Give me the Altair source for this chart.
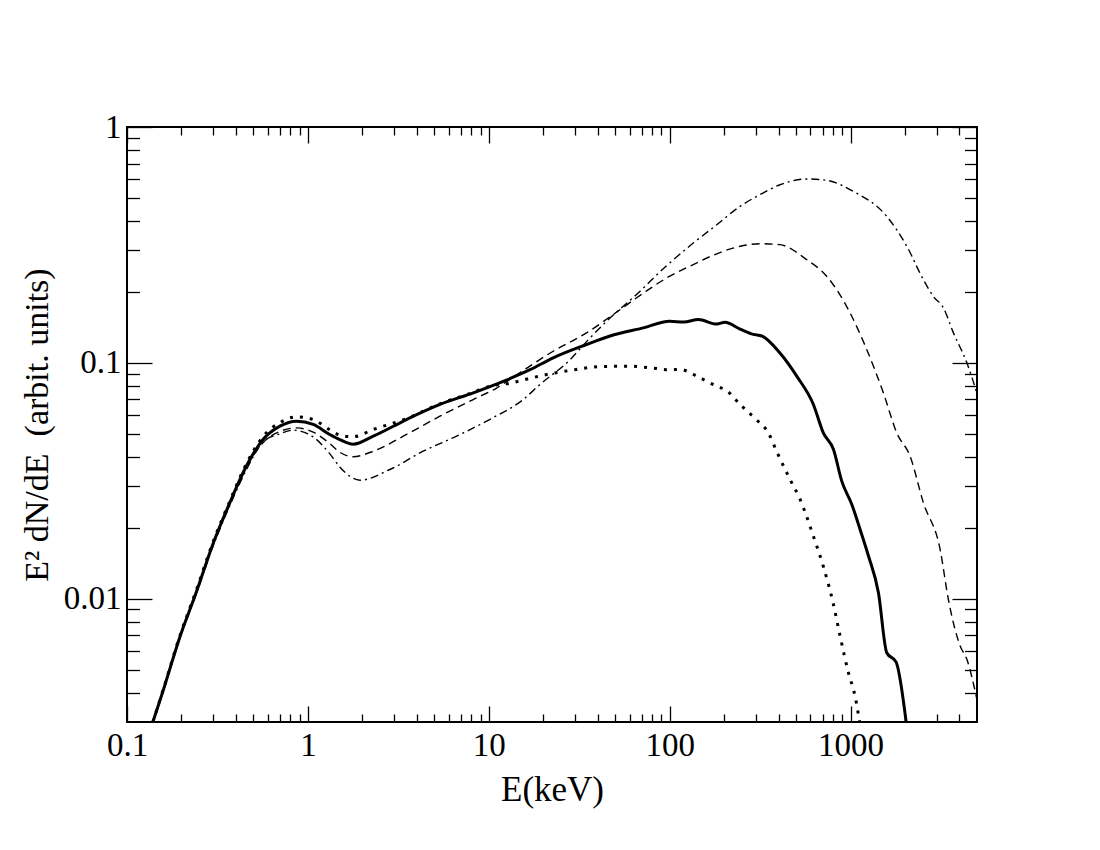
import altair as alt
import pandas as pd

# ---------------- data ----------------
solid_E = [0.139, 0.158, 0.195, 0.242, 0.299, 0.370, 0.457, 0.565, 0.700, 0.865,
           1.07, 1.32, 1.50, 1.78, 2.30, 3.51, 5.37, 8.21, 12.5, 16.9, 22.7, 34.7,
           46.8, 71.5, 100, 120, 144, 182, 202, 245, 290, 323, 407, 504, 623, 707,
           804, 894, 1016, 1128, 1255, 1426, 1585, 1786, 2040]
solid_V = [0.0030, 0.00405, 0.0068, 0.0107, 0.0171, 0.0255, 0.0365, 0.0473, 0.0539, 0.0566,
           0.0548, 0.0497, 0.0473, 0.0452, 0.0489, 0.0575, 0.0666, 0.0746, 0.0845, 0.0935, 0.1050, 0.1196,
           0.130, 0.1407, 0.150, 0.149, 0.1526, 0.146, 0.1486, 0.139, 0.132, 0.130, 0.110, 0.0878, 0.0666, 0.0505,
           0.043, 0.0315, 0.0251, 0.0197, 0.0152, 0.0106, 0.0059, 0.00538, 0.0029]

dotted_E = [0.139, 0.158, 0.195, 0.242, 0.299, 0.370, 0.457, 0.565, 0.700, 0.865,
            1.07, 1.32, 1.50, 1.78, 2.30, 3.51, 5.37, 8.21, 10.1, 13.1, 16.9, 21.8, 28.1,
            41.1, 60.3, 77.8, 100, 114, 147, 182, 206, 245, 297, 351, 391, 463, 526,
            623, 707, 804, 875, 973, 1059, 1105, 1130]
dotted_V = [0.0030, 0.00408, 0.00688, 0.0109, 0.0174, 0.0259, 0.0373, 0.0487, 0.0558, 0.0590,
            0.0575, 0.0520, 0.0494, 0.0486, 0.0522, 0.0580, 0.0670, 0.0750, 0.0796, 0.0820, 0.0860, 0.0898, 0.0928,
            0.0963, 0.0968, 0.0953, 0.0935, 0.0937, 0.0864, 0.0796, 0.0764, 0.0666, 0.0580, 0.0505, 0.0420,
            0.0320, 0.0264, 0.0184, 0.0137, 0.00946, 0.00695, 0.00486, 0.00386, 0.00323, 0.0029]

dashed_E = [0.139, 0.158, 0.195, 0.242, 0.299, 0.370, 0.457, 0.565, 0.700, 0.870,
            1.07, 1.32, 1.50, 1.78, 2.30, 3.51, 5.37, 8.21, 11.0, 14.9, 22.7, 34.7,
            53.1, 74.6, 96.1, 135, 182, 245, 316, 407, 572, 738, 993, 1228, 1518,
            1800, 2133, 2528, 3125, 3475, 4035, 4395, 4990]
dashed_V = [0.0030, 0.00403, 0.00677, 0.0106, 0.0169, 0.0251, 0.0360, 0.0458, 0.0512, 0.0530,
            0.0508, 0.0455, 0.0418, 0.0400, 0.0422, 0.0497, 0.0594, 0.0699, 0.0780, 0.0910, 0.112, 0.134,
            0.168, 0.202, 0.229, 0.261, 0.290, 0.312, 0.320, 0.317, 0.274, 0.233, 0.163, 0.114, 0.0746,
            0.0505, 0.0402, 0.0255, 0.0162, 0.0099, 0.0063, 0.00553, 0.00375]

dashdot_E = [0.139, 0.158, 0.195, 0.242, 0.299, 0.370, 0.457, 0.565, 0.700, 0.830,
             1.07, 1.32, 1.50, 1.94, 2.84, 4.34, 6.64, 10.1, 15.5, 19.2, 28.1, 34.7,
             44.8, 65.6, 96.1, 135, 182, 245, 316, 407, 572, 738, 1038, 1585, 2046,
             2528, 2872, 3260, 3705, 4395, 4990]
dashdot_V = [0.0030, 0.00402, 0.00672, 0.0105, 0.0167, 0.0248, 0.0352, 0.0462, 0.0500, 0.0518,
             0.0485, 0.0412, 0.0362, 0.0318, 0.0353, 0.0422, 0.0489, 0.0575, 0.0699, 0.0810, 0.103, 0.123,
             0.150, 0.195, 0.258, 0.322, 0.385, 0.461, 0.517, 0.569, 0.602, 0.594, 0.533, 0.418, 0.312,
             0.225, 0.191, 0.171, 0.134, 0.100, 0.0746]

x_major = [0.1, 1, 10, 100, 1000]
x_minor = [0.2, 0.3, 0.4, 0.5, 0.6, 0.7, 0.8, 0.9,
           2, 3, 4, 5, 6, 7, 8, 9,
           20, 30, 40, 50, 60, 70, 80, 90,
           200, 300, 400, 500, 600, 700, 800, 900,
           2000, 3000, 4000]
y_major = [0.01, 0.1, 1]
y_minor = [0.004, 0.005, 0.006, 0.007, 0.008, 0.009,
           0.02, 0.03, 0.04, 0.05, 0.06, 0.07, 0.08, 0.09,
           0.2, 0.3, 0.4, 0.5, 0.6, 0.7, 0.8, 0.9]

x_title = "E(keV)"
y_title = "E\u00b2 dN/dE\u00a0\u00a0(arbit. units)"

# ---------------- chart ----------------
FONT = "Liberation Serif"
xs = alt.Scale(type="log", domain=[0.1, 5000], nice=False)
ys = alt.Scale(type="log", domain=[0.003, 1], nice=False)

x_label_axis = alt.Axis(orient="bottom", values=x_major, format="~g",
                        labelFont=FONT, labelFontSize=33, labelColor="black",
                        labelPadding=7, labelFlush=False, labelOverlap=False,
                        ticks=False, tickSize=0, domain=False, grid=False,
                        title=x_title, titleFont=FONT, titleFontSize=35,
                        titleFontWeight="normal", titleColor="black",
                        titleY=78, titleBaseline="alphabetic")
y_label_axis = alt.Axis(orient="left", values=y_major, format="~g",
                        labelFont=FONT, labelFontSize=33, labelColor="black",
                        labelPadding=6, labelFlush=False, labelOverlap=False,
                        ticks=False, tickSize=0, domain=False, grid=False,
                        title=y_title, titleFont=FONT, titleFontSize=34,
                        titleFontWeight="normal", titleColor="black",
                        titleX=-80, titleAngle=270, titleBaseline="alphabetic")


def line_layer(E, V, xaxis=None, yaxis=None, **style):
    df = pd.DataFrame({"E": E, "V": V})
    return alt.Chart(df).mark_line(clip=True, color="black",
                                   interpolate="monotone", **style).encode(
        x=alt.X("E:Q", scale=xs, axis=xaxis),
        y=alt.Y("V:Q", scale=ys, axis=yaxis),
    )


def xtick_layer(vals, orient, size):
    df = pd.DataFrame({"E": vals})
    ax = alt.Axis(orient=orient, values=vals, offset=-size, tickSize=size,
                  tickWidth=1.3, tickColor="black", labels=False,
                  domain=False, grid=False, title=None)
    return alt.Chart(df).mark_point(opacity=0).encode(
        x=alt.X("E:Q", scale=xs, axis=ax))


def ytick_layer(vals, orient, size):
    df = pd.DataFrame({"V": vals})
    ax = alt.Axis(orient=orient, values=vals, offset=-size, tickSize=size,
                  tickWidth=1.3, tickColor="black", labels=False,
                  domain=False, grid=False, title=None)
    return alt.Chart(df).mark_point(opacity=0).encode(
        y=alt.Y("V:Q", scale=ys, axis=ax))


solid = line_layer(solid_E, solid_V, xaxis=x_label_axis, yaxis=y_label_axis,
                   strokeWidth=3)
dotted = line_layer(dotted_E, dotted_V, strokeWidth=3, strokeDash=[3, 7],
                    strokeCap="butt")
dashed = line_layer(dashed_E, dashed_V, strokeWidth=1.4, strokeDash=[8, 5])
dashdot = line_layer(dashdot_E, dashdot_V, strokeWidth=1.4,
                     strokeDash=[8, 4, 2, 4])

layers = [
    solid, dotted, dashed, dashdot,
    xtick_layer(x_major, "bottom", 16), xtick_layer(x_minor, "bottom", 8),
    xtick_layer(x_major, "top", 16), xtick_layer(x_minor, "top", 8),
    ytick_layer(y_major, "left", 25), ytick_layer(y_minor, "left", 12.5),
    ytick_layer(y_major, "right", 25), ytick_layer(y_minor, "right", 12.5),
]

chart = alt.layer(*layers).resolve_axis(
    x="independent", y="independent"
).properties(
    width=850, height=595,
    background="white",
    autosize=alt.AutoSizeParams(type="none"),
    padding={"left": 119, "top": 119, "right": 100, "bottom": 100},
).configure_view(
    stroke="black", strokeWidth=2
)

chart.save("out.html", embed_options={"renderer": "svg", "actions": False})
